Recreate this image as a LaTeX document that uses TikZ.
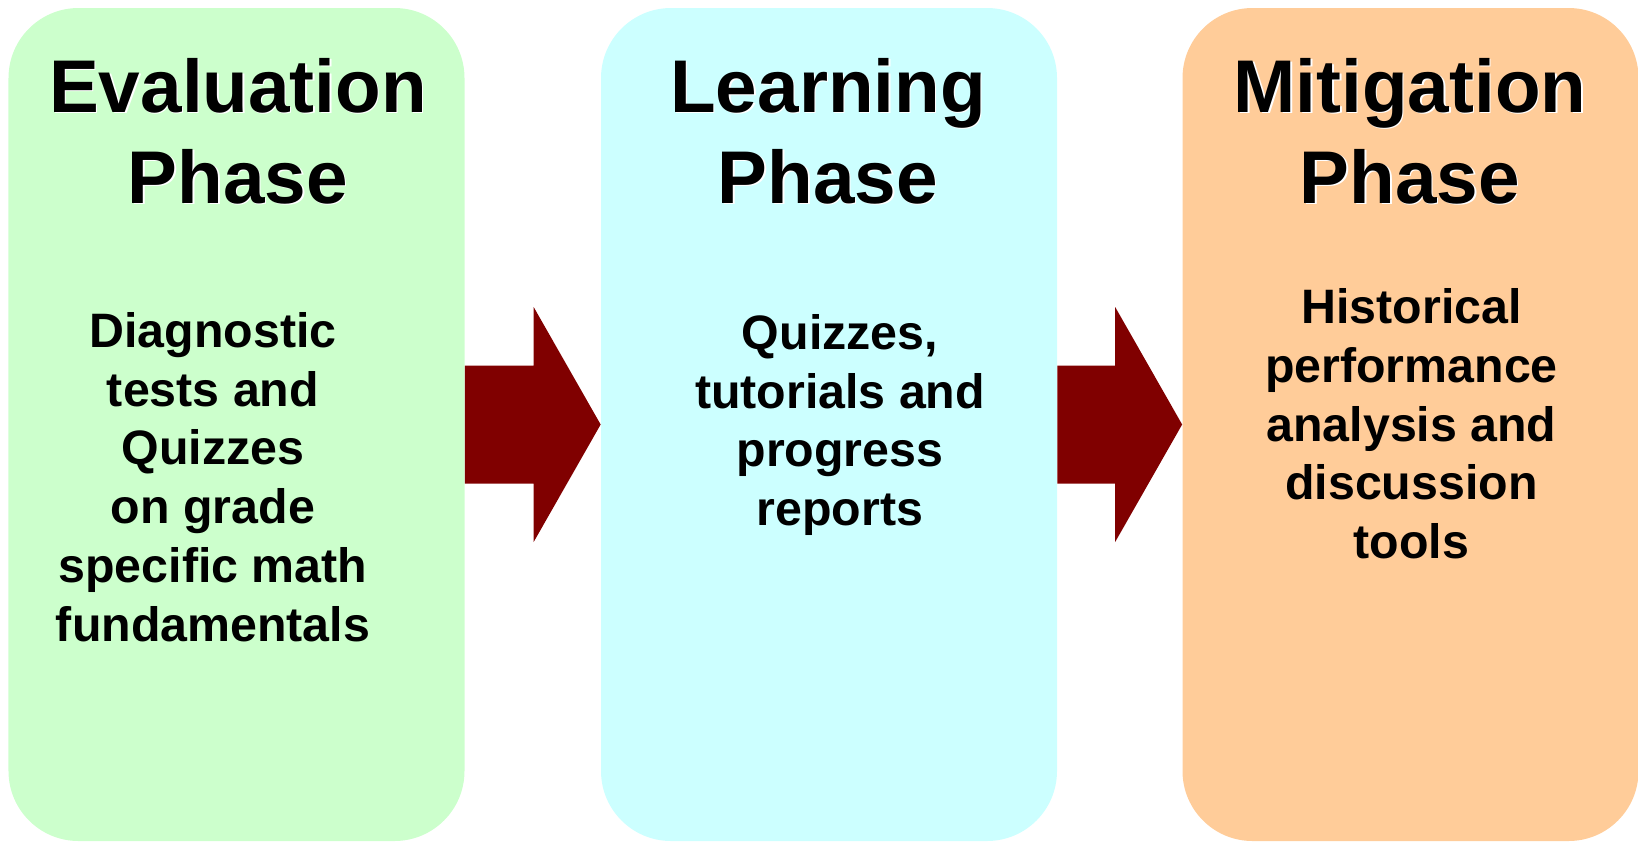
\documentclass[tikz,border=0pt]{standalone}
\usepackage{fontspec}
\setmainfont{Liberation Sans}
\usepackage{xcolor}
\usepackage{tikz}
\usetikzlibrary{positioning}

\definecolor{evalgreen}{HTML}{CCFFCC}
\definecolor{learncyan}{HTML}{CCFFFF}
\definecolor{mitorange}{HTML}{FFCC99}
\definecolor{arrowred}{HTML}{800000}

% heading with its light drop shadow
\newcommand{\phasetitle}[3]{%
  \node[title, text=white, xshift=0.8pt, yshift=-0.8pt] at #2 {#3};
  \node[title] (#1) at #2 {#3};}

% fat block arrow from one phase box to the next
\newcommand{\phasearrow}[2]{%
  \fill[fatarrow] ([yshift=11.8mm]#1.east) -- ([xshift=-13.4mm,yshift=11.8mm]#2.west)
    -- ([xshift=-13.4mm,yshift=23.5mm]#2.west) -- (#2.west)
    -- ([xshift=-13.4mm,yshift=-23.5mm]#2.west) -- ([xshift=-13.4mm,yshift=-11.8mm]#2.west)
    -- ([yshift=-11.8mm]#1.east) -- cycle;}

\begin{document}
\begin{tikzpicture}[
  phase/.style={rounded corners=14mm, minimum width=9.12cm,
                minimum height=16.66cm, inner sep=0pt},
  title/.style={align=center, font=\fontsize{42.5}{52}\selectfont\bfseries},
  body/.style={align=center, font=\fontsize{27.5}{33.4}\selectfont\bfseries},
  fatarrow/.style={fill=arrowred}
]
\useasboundingbox (0,0) rectangle (32.76,-16.82);

\node[phase, fill=evalgreen] (eval) at (4.73,-8.49) {};
\node[phase, fill=learncyan] (learn) at (16.58,-8.49) {};
\node[phase, fill=mitorange] (mitig) at (28.21,-8.49) {};

\phasetitle{evaltitle}{(4.76,-2.62)}{Evaluation\\Phase}
\phasetitle{learntitle}{(16.56,-2.62)}{Learning\\Phase}
\phasetitle{mitigtitle}{(28.2,-2.62)}{Mitigation\\Phase}

\node[body] (evaltext) at (4.26,-9.54) {Diagnostic\\tests and\\Quizzes\\on grade\\specific math\\fundamentals};
\node[body] (learntext) at (16.8,-8.5) {Quizzes,\\tutorials and\\progress\\reports};
\node[body] (mitigtext) at (28.23,-8.48) {Historical\\performance\\analysis and\\discussion\\tools};

\phasearrow{eval}{learn}
\phasearrow{learn}{mitig}
\end{tikzpicture}
\end{document}
